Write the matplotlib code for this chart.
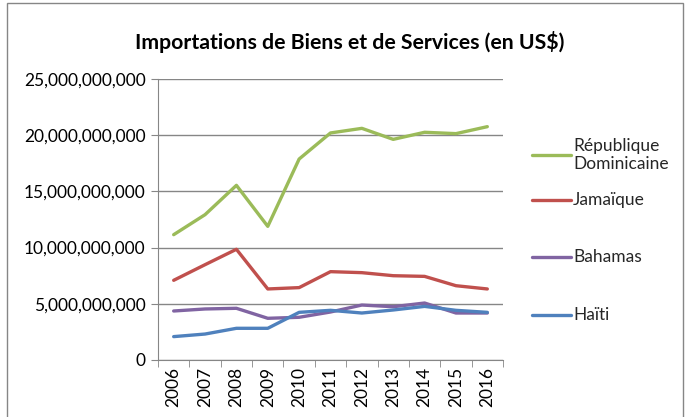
import numpy as np
import matplotlib
matplotlib.use("Agg")
import matplotlib.pyplot as plt
from matplotlib.lines import Line2D
from matplotlib.patches import Rectangle
from matplotlib.ticker import FuncFormatter, FixedLocator

plt.rcParams['font.family'] = ['Lato', 'DejaVu Sans']

years = ['2006', '2007', '2008', '2009', '2010', '2011', '2012', '2013', '2014', '2015', '2016']
rep_dom = [11.15, 12.93, 15.54, 11.89, 17.88, 20.20, 20.61, 19.63, 20.26, 20.14, 20.76]
jamaique = [7.09, 8.48, 9.85, 6.32, 6.44, 7.86, 7.77, 7.50, 7.44, 6.61, 6.32]
bahamas = [4.36, 4.54, 4.60, 3.71, 3.80, 4.27, 4.89, 4.74, 5.07, 4.18, 4.18]
haiti = [2.08, 2.31, 2.82, 2.82, 4.24, 4.42, 4.18, 4.45, 4.77, 4.42, 4.24]

series = [("République\nDominicaine", rep_dom, "#9BBB59"),
          ("Jamaïque", jamaique, "#C0504D"),
          ("Bahamas", bahamas, "#8064A2"),
          ("Haïti", haiti, "#4F81BD")]

fig = plt.figure(figsize=(6.87, 4.17), dpi=100)
ax = fig.add_axes([158/687, 57/417, 345/687, 281/417])

x = np.arange(len(years))
for name, vals, col in series:
    ax.plot(x, np.array(vals) * 1e9, color=col, lw=2.4, solid_capstyle='round')

ax.set_xlim(-0.5, len(years) - 0.5)
ax.set_ylim(0, 25e9)
ax.set_yticks(np.arange(0, 25e9 + 1, 5e9))
ax.yaxis.set_major_formatter(FuncFormatter(lambda v, p: f"{int(v):,}"))
ax.yaxis.grid(True, color='#868686', lw=1)
ax.set_axisbelow(True)

ax.set_xticks(x)
ax.set_xticklabels(years, rotation=90, fontsize=12.5)
ax.xaxis.set_minor_locator(FixedLocator(np.arange(-0.5, len(years), 1)))
ax.tick_params(axis='x', which='major', length=0, pad=5)
ax.tick_params(axis='x', which='minor', length=5, color='#868686')
ax.tick_params(axis='y', length=5, color='#868686', labelsize=12.5, pad=4)

for s in ['top', 'right']:
    ax.spines[s].set_visible(False)
for s in ['left', 'bottom']:
    ax.spines[s].set_color('#868686')

fig.text(350/687, 1 - 42/417, "Importations de Biens et de Services (en US$)",
         ha='center', va='center', fontsize=15.3, fontweight='bold')

# legend
leg_y = [155, 200, 257, 315]
for (name, vals, col), yy in zip(series, leg_y):
    fy = 1 - yy / 417
    fig.add_artist(Line2D([532/687, 571/687], [fy, fy], color=col, lw=2.4,
                          solid_capstyle='round', transform=fig.transFigure))
    fig.text(573/687, fy, name, ha='left', va='center', fontsize=12.5,
             linespacing=1.1, color='#262626')

fig.add_artist(Rectangle((7/687, -0.1), 676/687, 1.1 - 3/417, transform=fig.transFigure,
                         fill=False, edgecolor='#868686', lw=1))

fig.savefig("out.png", dpi=100)
